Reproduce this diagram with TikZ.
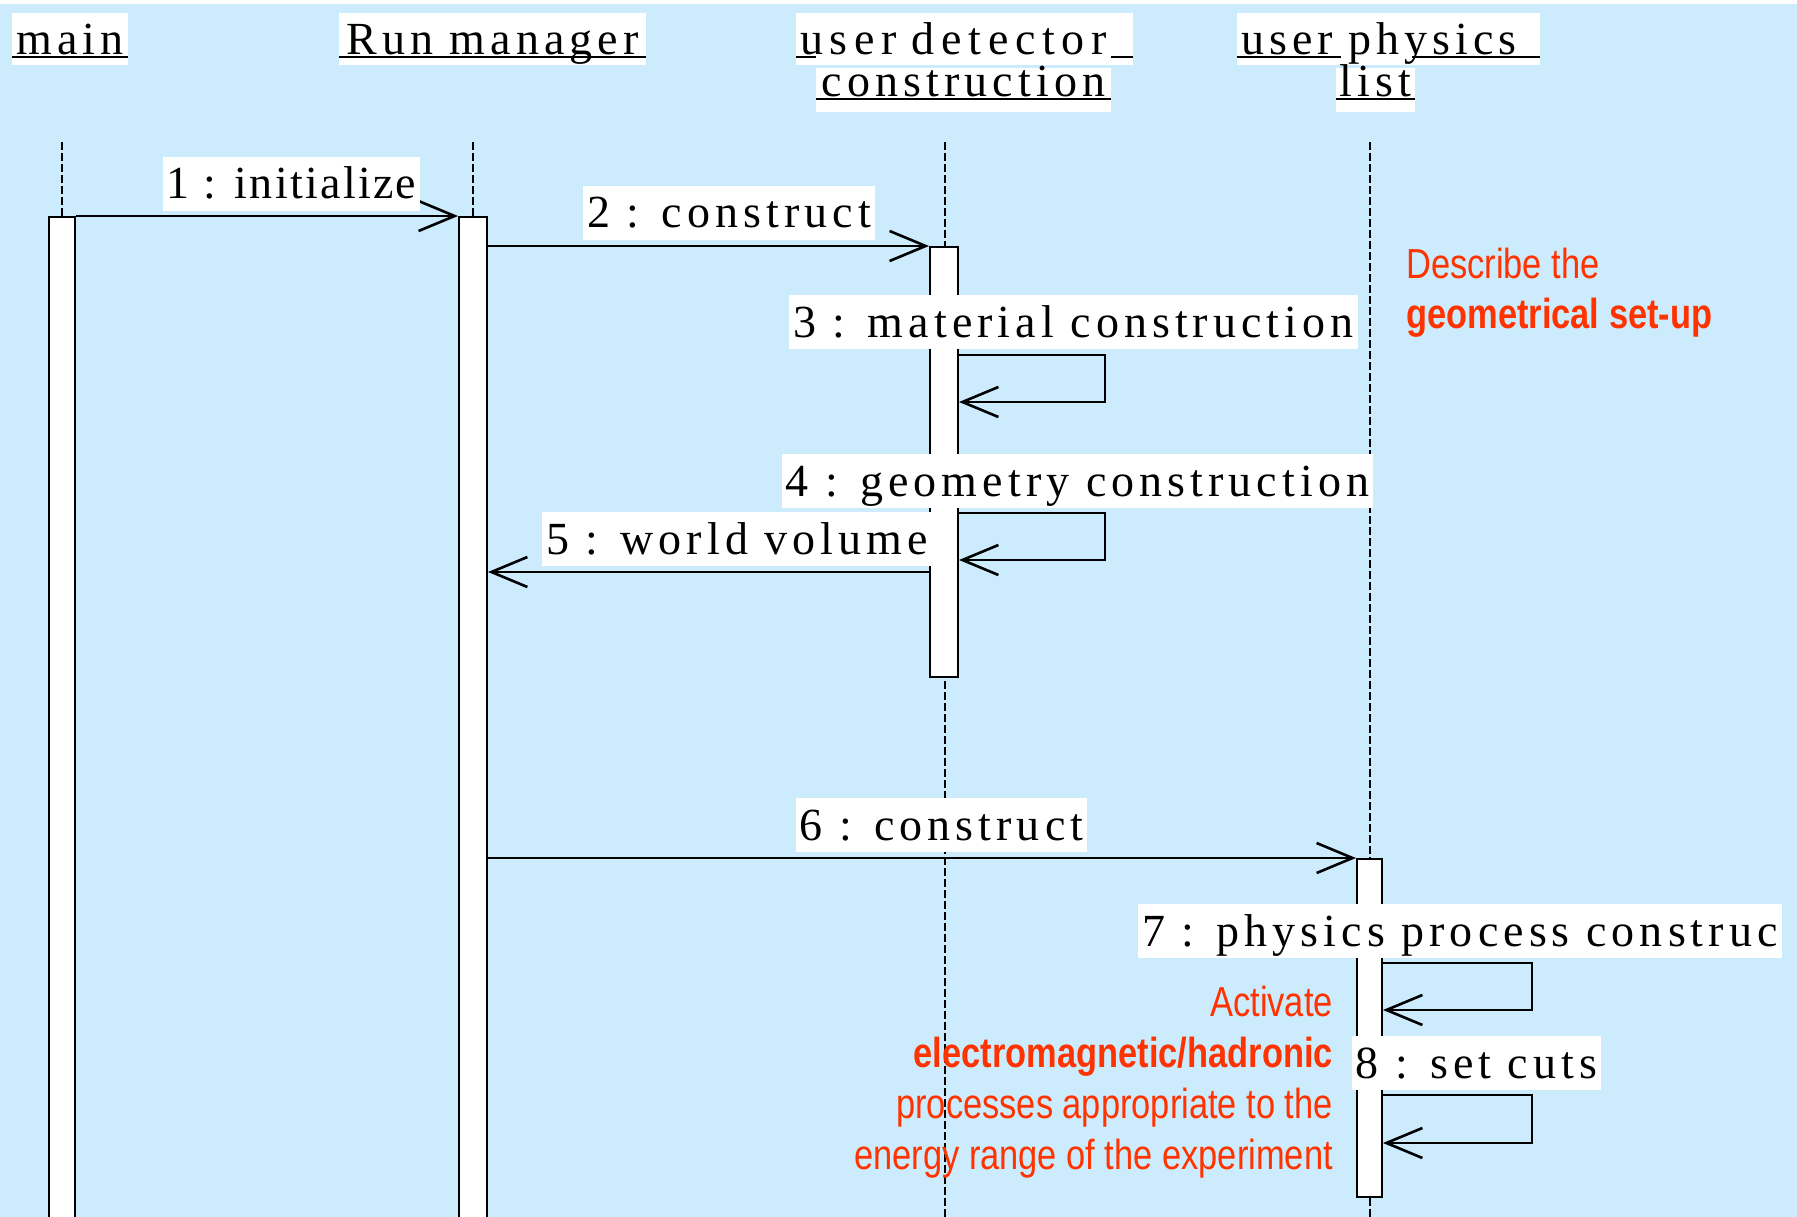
\documentclass[tikz,border=0pt]{standalone}
\usepackage{fontspec}
\setmainfont{Liberation Serif}
\newfontfamily\msgfont[LetterSpace=11]{Liberation Serif}
\newfontfamily\msgfontnarrow[LetterSpace=5]{Liberation Serif}
\newfontfamily\msgfontwide[LetterSpace=14.5]{Liberation Serif}
\newfontfamily\notefont[FakeStretch=0.82]{Liberation Sans}
\usetikzlibrary{arrows.meta}
\definecolor{bgblue}{RGB}{204,236,254}
\definecolor{notered}{RGB}{255,51,0}
\begin{document}
\begin{tikzpicture}[x=1pt,y=-1pt,
  msgtxt/.style={fill=white, inner xsep=4pt, inner ysep=0pt, text height=42pt, text depth=12pt,
    anchor=base, font=\msgfont\fontsize{46}{50}\selectfont},
  hdr/.style={fill=white, inner xsep=4pt, inner ysep=0pt, anchor=base,
    font=\msgfont\fontsize{46}{50}\selectfont},
  hline1/.style={text height=42pt, text depth=10pt},
  hline2/.style={text height=29pt, text depth=15pt},
  uline/.style={line width=2pt},
  lifeline/.style={line width=1.5pt, dash pattern=on 8pt off 3pt},
  actbar/.style={draw, fill=white, line width=2pt, inner sep=0pt},
  msg/.style={line width=2.6pt, line join=miter,
    -{Straight Barb[length=36pt,width=30pt,line width=2.6pt]}},
  note/.style={inner sep=0pt, text=notered, font=\notefont\fontsize{42}{50}\selectfont},
  notebold/.style={note, font=\notefont\bfseries\fontsize{42}{50}\selectfont}
]
\useasboundingbox (0,0) rectangle (1797,1217);
\fill[white] (0,0) rectangle (1797,1217);
\fill[bgblue] (0,4) rectangle (1797,1217);

% lifelines
\coordinate (lMain) at (62,142);
\coordinate (lRun) at (473,142);
\coordinate (lDet) at (945,142);
\coordinate (lPhy) at (1370,142);
\coordinate (lMainEnd) at (62,1217);
\coordinate (lRunEnd) at (473,1217);
\coordinate (lDetEnd) at (945,1217);
\coordinate (lPhyEnd) at (1370,1217);
\draw[lifeline] (lMain) -- (lMainEnd);
\draw[lifeline] (lRun) -- (lRunEnd);
\draw[lifeline] (lDet) -- (lDetEnd);
\draw[lifeline] (lPhy) -- (lPhyEnd);

% activation bars
\node[actbar, minimum width=26pt, minimum height=1013pt] (bMain) at (62,723.5) {};
\node[actbar, minimum width=28pt, minimum height=1013pt] (bRun) at (473,723.5) {};
\node[actbar, minimum width=28pt, minimum height=430pt] (bDet) at (944,462) {};
\node[actbar, minimum width=25pt, minimum height=338pt] (bPhy) at (1369.5,1028) {};

% headers
\node[hdr, hline1, minimum width=114pt] (hMain) at (70,55) {main};
\node[hdr, hline1, minimum width=307pt] (hRun) at (492.5,55) {Run manager};
\node[hdr, hline1, text width=329pt, align=left, font=\msgfontwide\fontsize{46}{50}\selectfont] (hDet1) at (964.5,55) {user detector};
\node[hdr, hline1, text width=295pt, align=left] (hPhy1) at (1388.5,55) {user physics};
\draw[uline] ([yshift=-2.5pt]hMain.base west) -- ([yshift=-2.5pt]hMain.base east);
\draw[uline] ([yshift=-2.5pt]hRun.base west) -- ([yshift=-2.5pt]hRun.base east);
\draw[uline] ([yshift=-2.5pt]hDet1.base west) -- ++(20pt,0pt);
\draw[uline] ([yshift=-2.5pt]hDet1.base east) -- ++(-22pt,0pt);
\draw[uline] ([yshift=-2.5pt]hPhy1.base west) -- ++(104pt,0pt);
\draw[uline] ([yshift=-2.5pt]hPhy1.base east) -- ++(-128pt,0pt);
\node[hdr, hline2, minimum width=295pt] (hDet2) at (963.5,97) {construction};
\node[hdr, hline2, minimum width=69pt] (hPhy2) at (1375.5,97) {list};
\draw[uline] ([yshift=-2.5pt]hDet2.base west) -- ([yshift=-2.5pt]hDet2.base east);
\draw[uline] ([yshift=-2.5pt]hPhy2.base west) -- ([yshift=-2.5pt]hPhy2.base east);

% messages
\draw[msg] (bMain.east |- 0,216) -- (bRun.west |- 0,216);
\draw[msg] (bRun.east |- 0,246) -- (bDet.west |- 0,246);
\draw[msg] (bDet.east |- 0,355) -| (1105,402) -- (bDet.east |- 0,402);
\draw[msg] (bDet.east |- 0,513) -| (1105,560) -- (bDet.east |- 0,560);
\draw[msg] (bDet.west |- 0,572) -- (bRun.east |- 0,572);
\draw[msg] (bRun.east |- 0,858) -- (bPhy.west |- 0,858);
\draw[msg] (bPhy.east |- 0,963) -| (1532,1010) -- (bPhy.east |- 0,1010);
\draw[msg] (bPhy.east |- 0,1095) -| (1532,1143) -- (bPhy.east |- 0,1143);

% message labels
\node[msgtxt, font=\msgfontnarrow\fontsize{46}{50}\selectfont] (m1) at (291.5,199) {1 : initialize};
\node[msgtxt] (m2) at (729,228) {2 : construct};
\node[msgtxt] (m3) at (1073.5,337) {3 : material construction};
\node[msgtxt] (m4) at (1077.5,496) {4 : geometry construction};
\node[msgtxt] (m5) at (737,554) {5 : world volume};
\node[msgtxt] (m6) at (941.5,840) {6 : construct};
\node[msgtxt, anchor=base west] (m7) at (1138,946) {7 : physics process construc};
\node[msgtxt] (m8) at (1476.5,1078) {8 : set cuts};

% notes
\node[note, anchor=base west] (n1) at (1406,278) {Describe the};
\node[notebold, anchor=base west] (n2) at (1406,328) {geometrical set-up};
\node[note, anchor=base east] (n3) at (1333,1016) {Activate};
\node[notebold, anchor=base east] (n4) at (1333,1067) {electromagnetic/hadronic};
\node[note, anchor=base east] (n5) at (1333,1118) {processes appropriate to the};
\node[note, anchor=base east] (n6) at (1333,1169) {energy range of the experiment};
\end{tikzpicture}
\end{document}
